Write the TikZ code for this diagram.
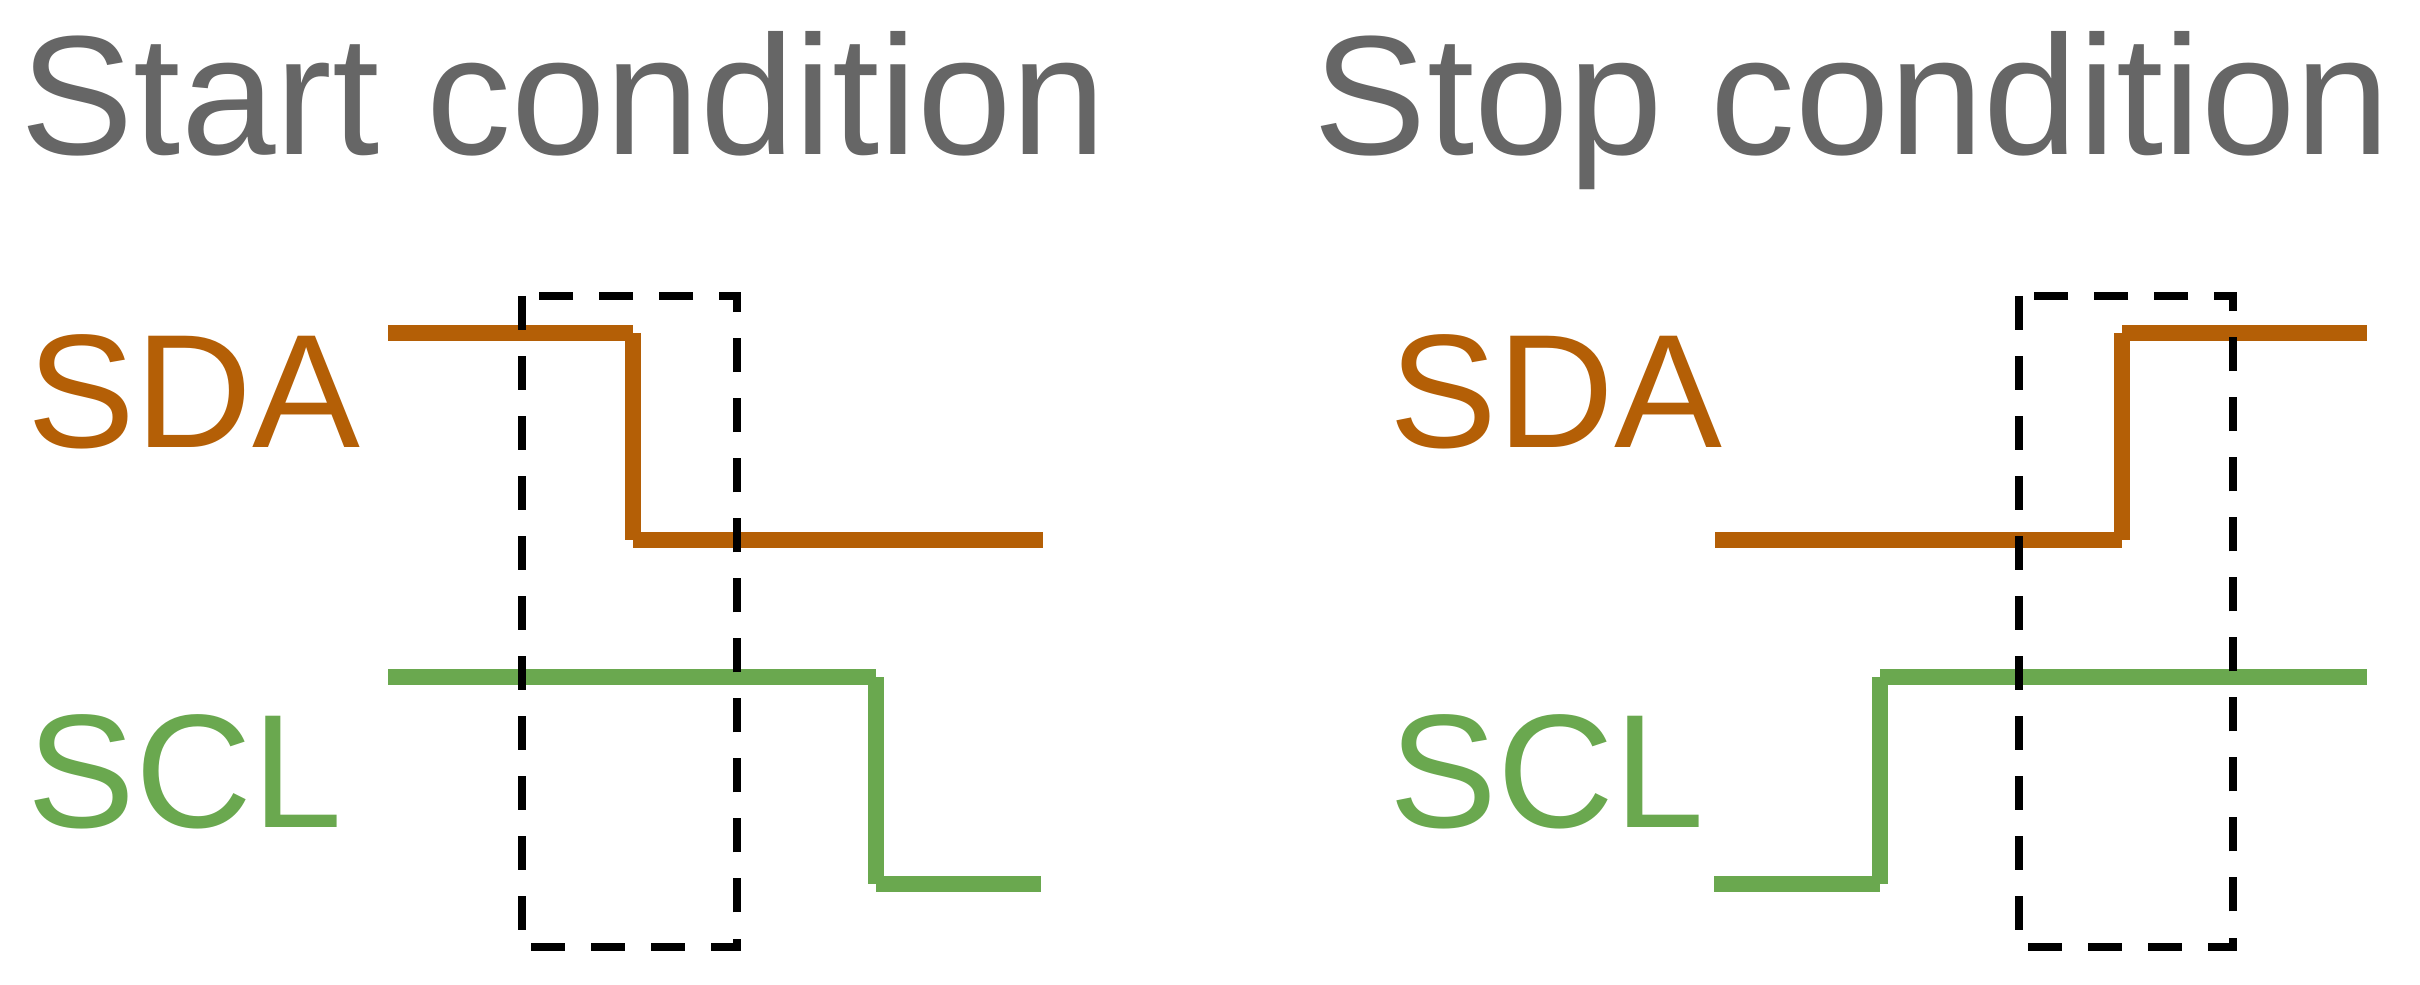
\documentclass[tikz,border=0pt]{standalone}
\usepackage{fontspec}
\setmainfont{Liberation Sans}
\usepackage{xcolor}
\usetikzlibrary{calc}
\definecolor{sdacol}{HTML}{B45F06}
\definecolor{sclcol}{HTML}{6AA84F}
\definecolor{titlecol}{HTML}{666666}
\tikzset{
	title/.style={anchor=base west,inner sep=0pt,text=titlecol,font=\fontsize{48.3}{52}\selectfont},
	signame/.style={anchor=base west,inner sep=0pt,font=\fontsize{46}{50}\selectfont},
	sdaline/.style={draw=sdacol,line width=4.8pt},
	sclline/.style={draw=sclcol,line width=4.8pt},
	window/.style={draw=black,line width=2.3pt,dash pattern=on 0.34cm off 0.26cm}
}

\begin{document}
\begin{tikzpicture}[x=0.01cm,y=-0.01cm]
		\useasboundingbox (0,0) rectangle (2420,985);
		
		% titles
		\node[title] (tstart) at (20,155) {Start condition};
		\node[title] (tstop) at (1313,155) {Stop condition};
		
		% signal names
		\node[signame,text=sdacol] (sdaL) at (27,448) {SDA};
		\node[signame,text=sclcol] (sclL) at (27,827) {SCL};
		\node[signame,text=sdacol] (sdaR) at (1389,448) {SDA};
		\node[signame,text=sclcol] (sclR) at (1389,827) {SCL};
		
		% start condition
		\coordinate (A1) at (388,333);
		\coordinate (A2) at (633,333);
		\coordinate (A3) at (633,540);
		\coordinate (A4) at (1043,540);
		\coordinate (B1) at (388,677);
		\coordinate (B2) at (876,677);
		\coordinate (B3) at (876,884);
		\coordinate (B4) at (1041,884);
		\draw[sdaline] (A1) -- (A2) (A2) -- (A3) (A3) -- (A4);
		\draw[sclline] (B1) -- (B2) (B2) -- (B3) (B3) -- (B4);
		\draw[window] (522,296) rectangle (737,947);
		
		% stop condition
		\coordinate (C1) at (1715,540);
		\coordinate (C2) at (2122,540);
		\coordinate (C3) at (2122,333);
		\coordinate (C4) at (2367,333);
		\coordinate (D1) at (1714,884);
		\coordinate (D2) at (1880,884);
		\coordinate (D3) at (1880,677);
		\coordinate (D4) at (2367,677);
		\draw[sdaline] (C1) -- (C2) (C2) -- (C3) (C3) -- (C4);
		\draw[sclline] (D1) -- (D2) (D2) -- (D3) (D3) -- (D4);
		\draw[window] (2019,296) rectangle (2233,947);
\end{tikzpicture}
\end{document}
